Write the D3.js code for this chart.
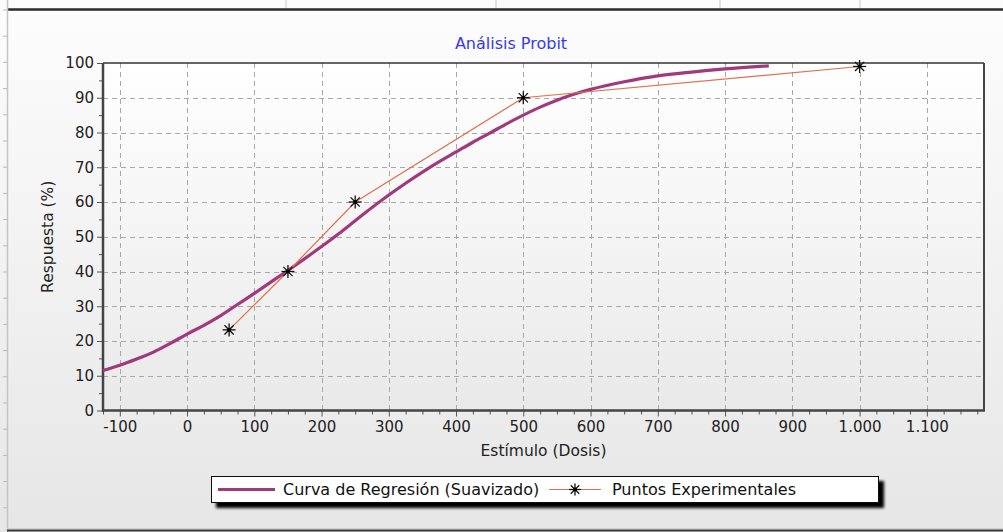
<!DOCTYPE html>
<html>
<head>
<meta charset="utf-8">
<script src="https://cdn.jsdelivr.net/npm/d3@7"></script>
<style>
  body { margin: 0; background: #fff; }
  svg { display: block; font-family: "DejaVu Sans", Verdana, sans-serif; }
</style>
</head>
<body>
<svg id="chart" width="1003" height="532"></svg>
<script>
/// Regression curve (smoothed)
var curveX = [-125, -100, -75, -50, -25, 0, 25, 50, 75, 100, 125, 150, 175, 200, 225, 250, 275, 300,
              325, 350, 375, 400, 425, 450, 475, 500, 525, 550, 575, 600, 650, 700, 750, 800, 865]
var curveY = [11.5, 13, 14.8, 16.8, 19.3, 22, 24.5, 27.3, 30.5, 33.7, 37, 40.3, 43.7, 47.2, 50.8, 54.6, 58.4, 62,
              65.4, 68.6, 71.6, 74.4, 77.2, 79.8, 82.5, 85, 87.3, 89.3, 91, 92.4, 94.6, 96.3, 97.4, 98.3, 99.2]

/// Experimental points
var pointsX = [62.5, 150, 250, 500, 1000]
var pointsY = [23.2, 40, 60, 90, 99]

/// Axes
var xTicks = [-100, 0, 100, 200, 300, 400, 500, 600, 700, 800, 900, 1000, 1100]
var yTicks = [0, 10, 20, 30, 40, 50, 60, 70, 80, 90, 100]
var xDomain = [-125, 1185]
var yDomain = [0, 100]

var title = "Análisis Probit"
var xTitle = "Estímulo (Dosis)"
var yTitle = "Respuesta (%)"
var legendNames = ["Curva de Regresión (Suavizado)", "Puntos Experimentales"]

var W = 1003, H = 532
var m = {left: 103, right: 984, top: 63, bottom: 410.5}

var svg = d3.select("#chart")
var defs = svg.append("defs")

var bg = defs.append("linearGradient").attr("id", "bg").attr("x1", 0).attr("x2", 0).attr("y1", 0).attr("y2", 1)
bg.append("stop").attr("offset", "0%").attr("stop-color", "#fdfdfd")
bg.append("stop").attr("offset", "100%").attr("stop-color", "#e6e6e6")

var pg = defs.append("linearGradient").attr("id", "pg").attr("x1", 0).attr("x2", 0).attr("y1", 0).attr("y2", 1)
pg.append("stop").attr("offset", "0%").attr("stop-color", "#ffffff")
pg.append("stop").attr("offset", "100%").attr("stop-color", "#e9e9e9")

var sh = defs.append("filter").attr("id", "shadow").attr("x", "-5%").attr("y", "-50%").attr("width", "115%").attr("height", "220%")
sh.append("feGaussianBlur").attr("in", "SourceAlpha").attr("stdDeviation", 1.5).attr("result", "b")
sh.append("feOffset").attr("in", "b").attr("dx", 5).attr("dy", 5).attr("result", "o")
var mg = sh.append("feMerge")
mg.append("feMergeNode").attr("in", "o")
mg.append("feMergeNode").attr("in", "SourceGraphic")

/// Window background and frame
svg.append("rect").attr("width", W).attr("height", H).attr("fill", "url(#bg)")
svg.append("rect").attr("x", 0).attr("y", 0).attr("width", W).attr("height", 9).attr("fill", "#fafafa")
svg.append("line").attr("x1", 7).attr("x2", W).attr("y1", 9.5).attr("y2", 9.5)
  .attr("stroke", "#2a2a2a").attr("stroke-width", 2.5)
svg.selectAll(".topsep").data([286, 496, 720, 860]).enter().append("line")
  .attr("x1", d => d).attr("x2", d => d).attr("y1", 0).attr("y2", 8)
  .attr("stroke", "#c8c8c8")
svg.append("line").attr("x1", 7.5).attr("x2", 7.5).attr("y1", 0).attr("y2", H)
  .attr("stroke", "#c4c4c4").attr("stroke-width", 1.5)
svg.selectAll(".leftsep").data(d3.range(0, 20)).enter().append("line")
  .attr("x1", 3).attr("x2", 7).attr("y1", d => 10 + d * 26.2).attr("y2", d => 10 + d * 26.2)
  .attr("stroke", "#b8b8b8")
svg.append("line").attr("x1", 7).attr("x2", W).attr("y1", 530.5).attr("y2", 530.5)
  .attr("stroke", "#3a3a3a").attr("stroke-width", 2)
svg.append("line").attr("x1", 7).attr("x2", W).attr("y1", 528.5).attr("y2", 528.5)
  .attr("stroke", "#d0d0d0").attr("stroke-width", 1)

/// Scales
var x = d3.scaleLinear().domain(xDomain).range([m.left, m.right])
var y = d3.scaleLinear().domain(yDomain).range([m.bottom, m.top])

var loc = d3.formatLocale({decimal: ",", thousands: ".", grouping: [3], currency: ["", ""], minus: "-"})
var fmt = loc.format(",d")

/// Plot area
svg.append("rect").attr("x", m.left).attr("y", m.top)
  .attr("width", m.right - m.left).attr("height", m.bottom - m.top).attr("fill", "url(#pg)")

/// Grid
var grid = svg.append("g").attr("stroke", "#a8a8a8").attr("stroke-dasharray", "5,4").attr("stroke-width", 1)
grid.selectAll(".gx").data(xTicks).enter().append("line")
  .attr("x1", d => Math.round(x(d)) + 0.5).attr("x2", d => Math.round(x(d)) + 0.5)
  .attr("y1", m.top).attr("y2", m.bottom)
grid.selectAll(".gy").data(yTicks.slice(1, -1)).enter().append("line")
  .attr("x1", m.left).attr("x2", m.right)
  .attr("y1", d => Math.round(y(d)) + 0.5).attr("y2", d => Math.round(y(d)) + 0.5)

/// Minor ticks
var xMinor = d3.range(-125, 1185, 25).filter(v => v % 100 != 0)
var yMinor = d3.range(5, 100, 10)

svg.append("g").attr("transform", "translate(0," + m.bottom + ")")
  .call(d3.axisBottom(x).tickValues(xMinor).tickSize(4).tickFormat(""))
  .call(g => g.select(".domain").remove())
  .selectAll("line").attr("stroke", "#555")
svg.append("g").attr("transform", "translate(" + m.left + ",0)")
  .call(d3.axisLeft(y).tickValues(yMinor).tickSize(4).tickFormat(""))
  .call(g => g.select(".domain").remove())
  .selectAll("line").attr("stroke", "#555")

/// Major ticks
var xa = svg.append("g").attr("transform", "translate(0," + m.bottom + ")")
  .call(d3.axisBottom(x).tickValues(xTicks).tickSize(6).tickPadding(5).tickFormat(fmt))
xa.select(".domain").remove()
xa.selectAll("line").attr("stroke", "#555")
xa.selectAll("text").attr("font-size", 15).attr("fill", "#222").attr("font-family", "DejaVu Sans")

var ya = svg.append("g").attr("transform", "translate(" + m.left + ",0)")
  .call(d3.axisLeft(y).tickValues(yTicks).tickSize(6).tickPadding(3))
ya.select(".domain").remove()
ya.selectAll("line").attr("stroke", "#555")
ya.selectAll("text").attr("font-size", 15).attr("fill", "#222").attr("font-family", "DejaVu Sans")

/// Frame
svg.append("line").attr("x1", m.left).attr("x2", m.right).attr("y1", m.top).attr("y2", m.top)
  .attr("stroke", "#333").attr("stroke-width", 1.5)
svg.append("line").attr("x1", m.right).attr("x2", m.right).attr("y1", m.top).attr("y2", m.bottom)
  .attr("stroke", "#444").attr("stroke-width", 2)
svg.append("line").attr("x1", m.left).attr("x2", m.left).attr("y1", m.top).attr("y2", m.bottom + 1)
  .attr("stroke", "#444").attr("stroke-width", 2.5)
svg.append("line").attr("x1", m.left - 1).attr("x2", m.right + 1).attr("y1", m.bottom).attr("y2", m.bottom)
  .attr("stroke", "#444").attr("stroke-width", 2.5)

/// Series
var curve = curveX.map((d, i) => [d, curveY[i]])
var pts = pointsX.map((d, i) => [d, pointsY[i]])
var line = d3.line().x(d => x(d[0])).y(d => y(d[1])).curve(d3.curveMonotoneX)
var seg = d3.line().x(d => x(d[0])).y(d => y(d[1]))

svg.append("path").datum(curve).attr("d", line)
  .attr("fill", "none").attr("stroke", "#a03a7c").attr("stroke-width", 3.2)
svg.append("path").datum(pts).attr("d", seg)
  .attr("fill", "none").attr("stroke", "#e0714e").attr("stroke-width", 1.2)

function star(g, cx, cy, r) {
  var s = g.append("g").attr("transform", "translate(" + cx + "," + cy + ")")
    .attr("stroke", "#111").attr("stroke-width", 1.3)
  ;[0, 45, 90, 135].forEach(a => {
    var rad = a * Math.PI / 180
    s.append("line").attr("x1", -r * Math.cos(rad)).attr("y1", -r * Math.sin(rad))
      .attr("x2", r * Math.cos(rad)).attr("y2", r * Math.sin(rad))
  })
  s.append("circle").attr("r", 2).attr("fill", "#000").attr("stroke", "none")
}
var pg2 = svg.append("g")
pts.forEach(d => star(pg2, x(d[0]), y(d[1]), 6.5))

/// Titles
svg.append("text").attr("x", 511).attr("y", 49).attr("text-anchor", "middle")
  .attr("font-size", 16).attr("fill", "#3838f0").text(title)
svg.append("text").attr("x", (m.left + m.right) / 2).attr("y", 456).attr("text-anchor", "middle")
  .attr("font-size", 15.5).attr("fill", "#222").text(xTitle)
svg.append("text").attr("transform", "translate(53," + (m.top + m.bottom) / 2 + ") rotate(-90)")
  .attr("text-anchor", "middle").attr("font-size", 15.5).attr("fill", "#222").text(yTitle)

/// Legend
var lg = svg.append("g")
lg.append("rect").attr("x", 211.5).attr("y", 476.5).attr("width", 667).attr("height", 26)
  .attr("fill", "#fff").attr("stroke", "#111").attr("stroke-width", 1).attr("filter", "url(#shadow)")
lg.append("line").attr("x1", 218).attr("x2", 275).attr("y1", 489.5).attr("y2", 489.5)
  .attr("stroke", "#a03a7c").attr("stroke-width", 3)
lg.append("text").attr("x", 283).attr("y", 495).attr("font-size", 16).attr("fill", "#111").text(legendNames[0])
lg.append("line").attr("x1", 549).attr("x2", 601).attr("y1", 489.5).attr("y2", 489.5)
  .attr("stroke", "#e0714e").attr("stroke-width", 1.2)
star(lg, 575, 489.5, 6)
lg.append("text").attr("x", 612).attr("y", 495).attr("font-size", 16).attr("fill", "#111").text(legendNames[1])
</script>
</body>
</html>
